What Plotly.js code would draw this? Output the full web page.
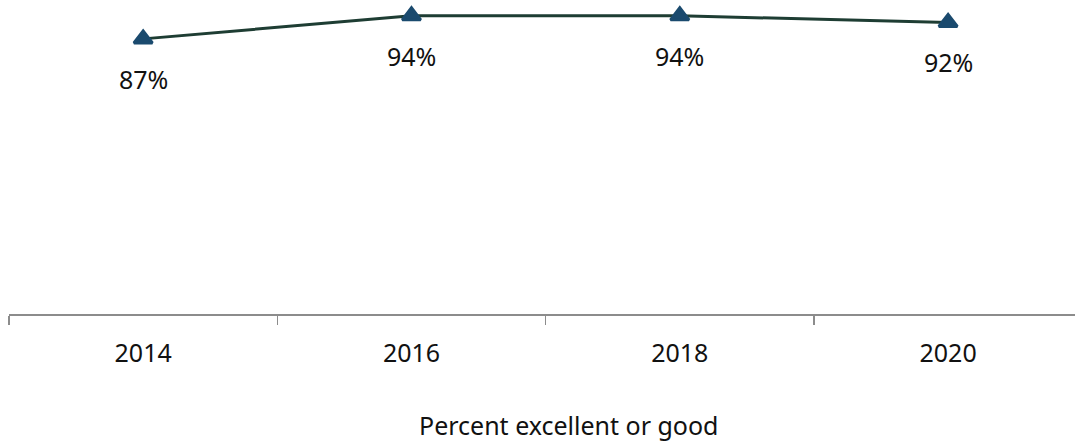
<!DOCTYPE html>
<html>
<head>
<meta charset="utf-8">
<script src="https://cdn.plot.ly/plotly-3.0.1.min.js"></script>
<style>html,body{margin:0;padding:0;background:#fff;}#chart{width:1075px;height:443px;}</style>
</head>
<body>
<div id="chart"></div>
<script>
const years = ['2014', '2016', '2018', '2020'];
const percentExcellentOrGood = [87, 94, 94, 92];
const labels = ['87%', '94%', '94%', '92%'];
const xTitle = 'Percent excellent or good';

const FONT = 'Noto Sans, Segoe UI, sans-serif';

const trace = {
  x: years,
  y: percentExcellentOrGood,
  type: 'scatter',
  mode: 'lines+markers',
  line: {color: '#1e3d33', width: 3},
  marker: {symbol: 'triangle-up', size: 16, color: '#1a4a6e', line: {color: '#1a4a6e', width: 3}},
  cliponaxis: false,
  hoverinfo: 'skip'
};

const annotations = years.map((yr, i) => ({
  x: i, y: percentExcellentOrGood[i], xref: 'x', yref: 'y',
  text: labels[i], showarrow: false, yshift: -40, yanchor: 'middle', xanchor: 'center',
  font: {family: FONT, size: 25, color: '#111'}
}));
annotations.push({
  x: 0.5, y: 0, xref: 'paper', yref: 'paper', text: xTitle, showarrow: false,
  xshift: 26, yshift: -111, yanchor: 'middle', font: {family: FONT, size: 25, color: '#111'}
});

const layout = {
  width: 1075, height: 443,
  margin: {l: 9, r: 0, t: 0, b: 129},
  paper_bgcolor: '#fff', plot_bgcolor: '#fff',
  showlegend: false,
  font: {family: FONT, size: 25, color: '#111'},
  xaxis: {
    type: 'category', range: [-0.5, 3.473],
    showline: true, linecolor: '#8c8c8c', linewidth: 2,
    ticks: 'outside', tickson: 'boundaries', ticklen: 9, tickwidth: 1.5, tickcolor: '#8c8c8c',
    ticklabelstandoff: 16,
    showgrid: false, zeroline: false,
    tickfont: {family: FONT, size: 25, color: '#111'}
  },
  yaxis: {
    range: [3.5, 98.8], showticklabels: false, showline: false, ticks: '', showgrid: false, zeroline: false
  },
  annotations: annotations
};

Plotly.newPlot('chart', [trace], layout, {displayModeBar: false, staticPlot: true});
</script>
</body>
</html>
